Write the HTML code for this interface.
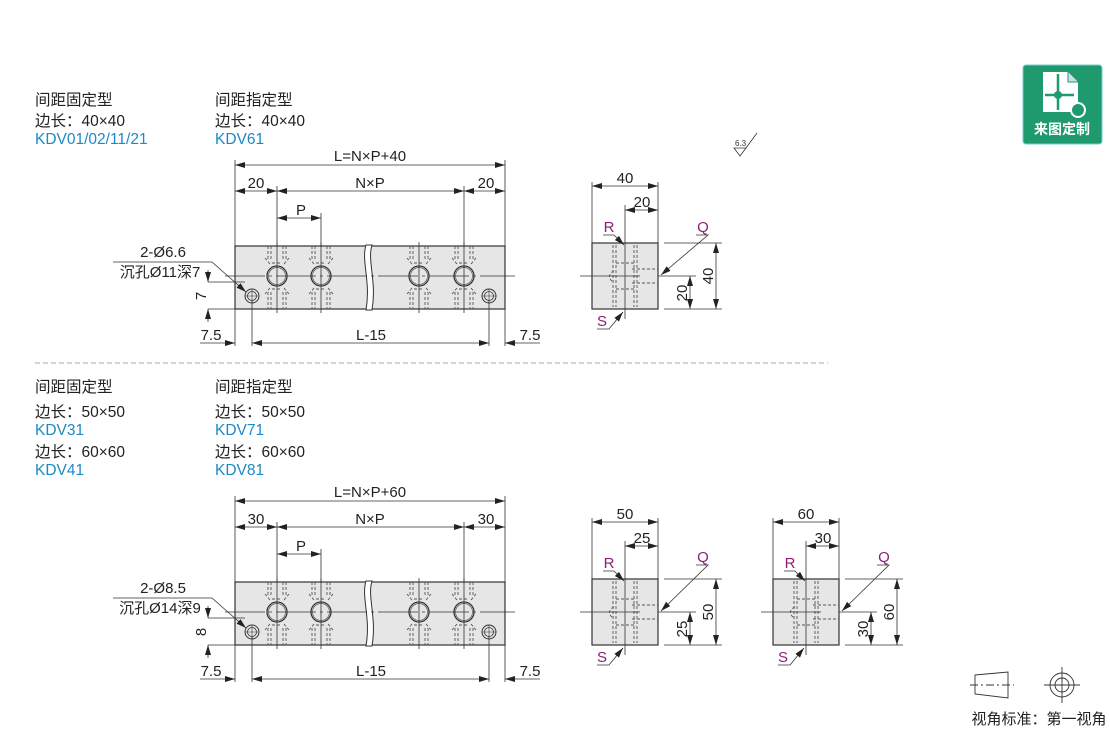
<!DOCTYPE html>
<html><head><meta charset="utf-8"><style>
html,body{margin:0;padding:0;background:#fff;}
svg{display:block;font-family:"Liberation Sans","Noto Sans CJK SC",sans-serif;}
.t{font-size:15.5px;fill:#222;}
.b{font-size:15.5px;fill:#1a8ac8;}
.d{font-size:15px;fill:#222;}
.m{font-size:15px;fill:#8b1f7a;}
</style></head><body>
<svg width="1110" height="730" viewBox="0 0 1110 730" xmlns="http://www.w3.org/2000/svg">
<defs>
<marker id="a" viewBox="0 0 10 6" refX="10" refY="3" markerWidth="10" markerHeight="6" orient="auto-start-reverse" markerUnits="userSpaceOnUse"><path d="M0,0 L10,3 L0,6z" fill="#222"/></marker>
<g id="hole">
 <circle r="10" fill="none" stroke="#333" stroke-width="1.3"/>
 <circle r="8.5" fill="none" stroke="#555" stroke-width="0.7"/>
 <g stroke="#555" stroke-width="0.9" stroke-dasharray="3,2" fill="none">
  <path d="M-9,-30 V-16 M-6,-30 V-16 M6,-30 V-16 M9,-30 V-16"/>
  <path d="M-9,16 V33 M-6,16 V33 M6,16 V33 M9,16 V33"/>
  <path d="M-7,-12 L-12,-18 M7,-12 L12,-18 M-7,12 L-12,18 M7,12 L12,18 M-5,-13 H5 M-5,13 H5"/>
 </g>
 <path d="M0,-34 V37" stroke="#333" stroke-width="0.8"/>
</g>
<g id="blk">
 <rect x="0" y="0" width="270" height="63" fill="#e6e6e6" stroke="#333" stroke-width="1.2"/>
 <path d="M131,-1 C126,15 136,35 131,64 L137,64 C142,35 132,15 137,-1z" fill="#fff" stroke="#333" stroke-width="1"/>
 <path d="M-10,30 H280" stroke="#333" stroke-width="0.8" stroke-dasharray="40,4,3,4"/>
 <use href="#hole" x="42" y="30"/><use href="#hole" x="86" y="30"/>
 <use href="#hole" x="184" y="30"/><use href="#hole" x="229" y="30"/>
 <circle cx="17" cy="50" r="7" fill="none" stroke="#333" stroke-width="1"/><circle cx="17" cy="50" r="4.5" fill="none" stroke="#333" stroke-width="0.8"/>
 <circle cx="254" cy="50" r="7" fill="none" stroke="#333" stroke-width="1"/><circle cx="254" cy="50" r="4.5" fill="none" stroke="#333" stroke-width="0.8"/>
 <path d="M17,43 V57 M10,50 H24 M254,43 V57 M247,50 H261" stroke="#333" stroke-width="0.6"/>
</g>
<g id="side">
 <rect x="0" y="0" width="66" height="66" fill="#e6e6e6" stroke="#333" stroke-width="1.2"/>
 <g stroke="#555" stroke-width="0.9" stroke-dasharray="3,2" fill="none">
  <path d="M21,2 V64 M24,2 V64 M42,2 V64 M45,2 V64 M24,20 H42 M24,46 H42 M40,26 H66 M40,40 H66 M22,28 C16,30 16,37 22,39"/>
 </g>
 <path d="M33,-14 V76 M-12,33 H48 M66,33 H80" stroke="#333" stroke-width="0.8"/>
</g>
</defs>

<text class="t" x="35" y="105">间距固定型</text><text class="t" x="35" y="126">边长：40×40</text><text class="b" x="35" y="144">KDV01/02/11/21</text>
<text class="t" x="215" y="105">间距指定型</text><text class="t" x="215" y="126">边长：40×40</text><text class="b" x="215" y="144">KDV61</text>
<text class="t" x="35" y="392">间距固定型</text><text class="t" x="35" y="417">边长：50×50</text><text class="b" x="35" y="435">KDV31</text><text class="t" x="35" y="457">边长：60×60</text><text class="b" x="35" y="475">KDV41</text>
<text class="t" x="215" y="392">间距指定型</text><text class="t" x="215" y="417">边长：50×50</text><text class="b" x="215" y="435">KDV71</text><text class="t" x="215" y="457">边长：60×60</text><text class="b" x="215" y="475">KDV81</text>

<path d="M35,363 H828" stroke="#aaa" stroke-width="1" stroke-dasharray="5,3"/>

<text x="735" y="146" font-size="8" fill="#333">6.3</text>
<path d="M734,148 H746 L740,156z M743,152 L757,133" fill="none" stroke="#333" stroke-width="0.8"/>

<use href="#blk" x="235" y="246"/>
<g stroke="#333" stroke-width="0.8" fill="none">
 <path d="M235,160 V346 M505,160 V346 M277,186 V246 M464,186 V246 M321,213 V246 M252,300 V346 M489,300 V346"/>
 <path d="M235,165 H505" marker-start="url(#a)" marker-end="url(#a)"/>
 <path d="M235,191 H277" marker-start="url(#a)" marker-end="url(#a)"/>
 <path d="M277,191 H464" marker-start="url(#a)" marker-end="url(#a)"/>
 <path d="M464,191 H505" marker-start="url(#a)" marker-end="url(#a)"/>
 <path d="M277,218 H321" marker-start="url(#a)" marker-end="url(#a)"/>
 <path d="M252,343 H489" marker-start="url(#a)" marker-end="url(#a)"/>
 <path d="M200,343 H235" marker-end="url(#a)"/><path d="M540,343 H505" marker-end="url(#a)"/>
 <path d="M208,282 H245 M208,309 H235"/>
 <path d="M208,270 V282" marker-end="url(#a)"/><path d="M208,322 V309" marker-end="url(#a)"/>
 <path d="M113,262 H212 L246,292" marker-end="url(#a)"/>
</g>
<text class="d" x="370" y="161" text-anchor="middle">L=N×P+40</text>
<text class="d" x="256" y="188" text-anchor="middle">20</text>
<text class="d" x="370" y="188" text-anchor="middle">N×P</text>
<text class="d" x="486" y="188" text-anchor="middle">20</text>
<text class="d" x="301" y="215" text-anchor="middle">P</text>
<text class="d" x="371" y="340" text-anchor="middle">L-15</text>
<text class="d" x="211" y="340" text-anchor="middle">7.5</text>
<text class="d" x="530" y="340" text-anchor="middle">7.5</text>
<text class="d" x="163" y="257" text-anchor="middle">2-Ø6.6</text>
<text class="d" x="160" y="277" text-anchor="middle">沉孔Ø11深7</text>
<text class="d" transform="translate(206,296) rotate(-90)" text-anchor="middle">7</text>

<use href="#side" x="592" y="243"/>
<g stroke="#333" stroke-width="0.8" fill="none">
 <path d="M592,182 V243 M658,182 V243 M625,205 V229"/>
 <path d="M592,186 H658" marker-start="url(#a)" marker-end="url(#a)"/>
 <path d="M625,210 H658" marker-start="url(#a)" marker-end="url(#a)"/>
 <path d="M664,243 H722 M664,309 H722 M672,276 H696"/>
 <path d="M716,243 V309" marker-start="url(#a)" marker-end="url(#a)"/>
 <path d="M690,276 V309" marker-start="url(#a)" marker-end="url(#a)"/>
 <path d="M603,235 H614 L624,245" marker-end="url(#a)"/>
 <path d="M696,235 H708 L661,275" marker-end="url(#a)"/>
 <path d="M597,329 H609 L623,312" marker-end="url(#a)"/>
</g>
<text class="d" x="625" y="183" text-anchor="middle">40</text>
<text class="d" x="642" y="207" text-anchor="middle">20</text>
<text class="d" transform="translate(713,276) rotate(-90)" text-anchor="middle">40</text>
<text class="d" transform="translate(687,293) rotate(-90)" text-anchor="middle">20</text>
<text class="m" x="609" y="232" text-anchor="middle">R</text>
<text class="m" x="703" y="232" text-anchor="middle">Q</text>
<text class="m" x="602" y="326" text-anchor="middle">S</text>

<use href="#blk" x="235" y="582"/>
<g stroke="#333" stroke-width="0.8" fill="none">
 <path d="M235,496 V682 M505,496 V682 M277,522 V582 M464,522 V582 M321,549 V582 M252,636 V682 M489,636 V682"/>
 <path d="M235,501 H505" marker-start="url(#a)" marker-end="url(#a)"/>
 <path d="M235,527 H277" marker-start="url(#a)" marker-end="url(#a)"/>
 <path d="M277,527 H464" marker-start="url(#a)" marker-end="url(#a)"/>
 <path d="M464,527 H505" marker-start="url(#a)" marker-end="url(#a)"/>
 <path d="M277,554 H321" marker-start="url(#a)" marker-end="url(#a)"/>
 <path d="M252,679 H489" marker-start="url(#a)" marker-end="url(#a)"/>
 <path d="M200,679 H235" marker-end="url(#a)"/><path d="M540,679 H505" marker-end="url(#a)"/>
 <path d="M208,618 H245 M208,645 H235"/>
 <path d="M208,606 V618" marker-end="url(#a)"/><path d="M208,658 V645" marker-end="url(#a)"/>
 <path d="M113,598 H212 L246,628" marker-end="url(#a)"/>
</g>
<text class="d" x="370" y="497" text-anchor="middle">L=N×P+60</text>
<text class="d" x="256" y="524" text-anchor="middle">30</text>
<text class="d" x="370" y="524" text-anchor="middle">N×P</text>
<text class="d" x="486" y="524" text-anchor="middle">30</text>
<text class="d" x="301" y="551" text-anchor="middle">P</text>
<text class="d" x="371" y="676" text-anchor="middle">L-15</text>
<text class="d" x="211" y="676" text-anchor="middle">7.5</text>
<text class="d" x="530" y="676" text-anchor="middle">7.5</text>
<text class="d" x="163" y="593" text-anchor="middle">2-Ø8.5</text>
<text class="d" x="160" y="613" text-anchor="middle">沉孔Ø14深9</text>
<text class="d" transform="translate(206,632) rotate(-90)" text-anchor="middle">8</text>

<use href="#side" x="592" y="579"/>
<use href="#side" x="773" y="579"/>
<g stroke="#333" stroke-width="0.8" fill="none">
 <path d="M592,518 V579 M658,518 V579 M625,541 V565"/>
 <path d="M592,522 H658" marker-start="url(#a)" marker-end="url(#a)"/>
 <path d="M625,546 H658" marker-start="url(#a)" marker-end="url(#a)"/>
 <path d="M664,579 H722 M664,645 H722 M672,612 H696"/>
 <path d="M716,579 V645" marker-start="url(#a)" marker-end="url(#a)"/>
 <path d="M690,612 V645" marker-start="url(#a)" marker-end="url(#a)"/>
 <path d="M603,571 H614 L624,581" marker-end="url(#a)"/>
 <path d="M696,565 H708 L661,611" marker-end="url(#a)"/>
 <path d="M597,665 H609 L623,648" marker-end="url(#a)"/>

 <path d="M773,518 V579 M839,518 V579 M806,541 V565"/>
 <path d="M773,522 H839" marker-start="url(#a)" marker-end="url(#a)"/>
 <path d="M806,546 H839" marker-start="url(#a)" marker-end="url(#a)"/>
 <path d="M845,579 H903 M845,645 H903 M853,612 H877"/>
 <path d="M897,579 V645" marker-start="url(#a)" marker-end="url(#a)"/>
 <path d="M871,612 V645" marker-start="url(#a)" marker-end="url(#a)"/>
 <path d="M784,571 H795 L805,581" marker-end="url(#a)"/>
 <path d="M877,565 H889 L842,611" marker-end="url(#a)"/>
 <path d="M778,665 H790 L804,648" marker-end="url(#a)"/>
</g>
<text class="d" x="625" y="519" text-anchor="middle">50</text>
<text class="d" x="642" y="543" text-anchor="middle">25</text>
<text class="d" transform="translate(713,612) rotate(-90)" text-anchor="middle">50</text>
<text class="d" transform="translate(687,629) rotate(-90)" text-anchor="middle">25</text>
<text class="m" x="609" y="568" text-anchor="middle">R</text>
<text class="m" x="703" y="562" text-anchor="middle">Q</text>
<text class="m" x="602" y="662" text-anchor="middle">S</text>
<text class="d" x="806" y="519" text-anchor="middle">60</text>
<text class="d" x="823" y="543" text-anchor="middle">30</text>
<text class="d" transform="translate(894,612) rotate(-90)" text-anchor="middle">60</text>
<text class="d" transform="translate(868,629) rotate(-90)" text-anchor="middle">30</text>
<text class="m" x="790" y="568" text-anchor="middle">R</text>
<text class="m" x="884" y="562" text-anchor="middle">Q</text>
<text class="m" x="783" y="662" text-anchor="middle">S</text>

<rect x="1023" y="65" width="79" height="79" rx="3" fill="#1f9a6e" stroke="#7cc" stroke-width="1"/>
<path d="M1043,72 H1068 L1078,82 V112 H1043z" fill="#fff"/>
<path d="M1068,72 V82 H1078" fill="#cde" stroke="#1f9a6e" stroke-width="1"/>
<path d="M1058,74 V110 M1045,95 H1074" stroke="#1f9a6e" stroke-width="2.5"/>
<circle cx="1058" cy="95" r="4" fill="#1f9a6e"/>
<circle cx="1078" cy="110" r="7" fill="#1f9a6e" stroke="#fff" stroke-width="2"/>
<text x="1062" y="134" font-size="14" font-weight="bold" fill="#fff" text-anchor="middle">来图定制</text>

<g stroke="#333" stroke-width="0.9" fill="none">
 <path d="M975,675 L1008,672 V698 L975,694z"/>
 <path d="M970,685 H1014" stroke-dasharray="8,3,2,3"/>
 <circle cx="1062" cy="685" r="12"/><circle cx="1062" cy="685" r="7"/>
 <path d="M1044,685 H1080 M1062,667 V703"/>
</g>
<text x="1039" y="724" font-size="15" fill="#222" text-anchor="middle">视角标准：第一视角</text>
</svg>
</body></html>
